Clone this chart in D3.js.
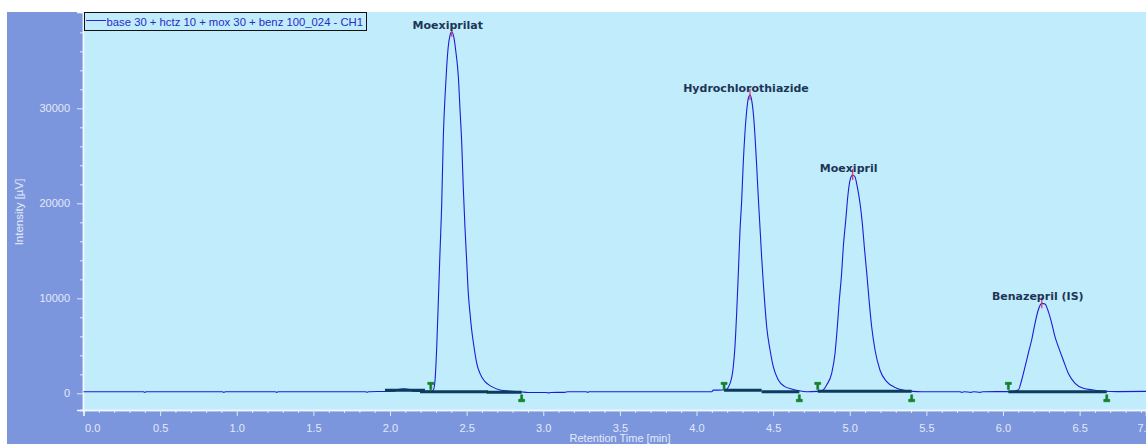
<!DOCTYPE html>
<html><head><meta charset="utf-8">
<script src="https://cdn.jsdelivr.net/npm/d3@7"></script>
<style>body{margin:0;background:#fff}svg{display:block}</style>
</head><body><svg id="c" width="1146" height="444"></svg>
<script>
// ---- data ----
const traceTime = [-0.01,0.39,0.40,0.41,0.905,0.916,0.927,1.25,1.261,1.272,1.84,1.85,1.86,1.96,2.03,2.06,2.09,2.12,2.15,2.20,2.27,
  2.283,2.294,2.305,2.315,2.326,2.337,2.348,2.359,2.370,2.380,2.392,2.403,2.418,2.431,2.446,2.457,2.468,2.478,2.489,2.500,2.511,2.522,2.533,2.548,2.566,2.587,2.620,2.664,2.718,2.78,2.86,2.90,3.02,3.034,3.048,3.14,3.16,3.28,3.29,3.30,4.10,4.11,4.17,
  4.186,4.219,4.240,4.251,4.262,4.273,4.284,4.295,4.305,4.316,4.328,4.338,4.349,4.360,4.371,4.382,4.393,4.403,4.414,4.425,4.436,4.447,4.458,4.480,4.501,4.534,4.577,4.620,4.67,4.72,4.79,
  4.827,4.849,4.882,4.904,4.919,4.932,4.947,4.958,4.974,4.987,5.002,5.019,5.034,5.049,5.067,5.082,5.095,5.111,5.126,5.143,5.165,5.197,5.241,5.306,5.36,5.41,5.47,5.72,5.73,5.75,5.79,5.81,5.85,5.87,6.04,
  6.100,6.122,6.144,6.165,6.187,6.209,6.230,6.253,6.274,6.296,6.318,6.339,6.361,6.393,6.426,6.470,6.524,6.589,6.66,6.75,6.95];
const traceIntensity = [170,170,90,170,170,100,170,170,100,170,170,110,170,190,210,420,470,430,230,200,210,
  347,1400,4905,9505,14770,19640,27010,31220,34380,36480,37710,38060,37370,35790,33330,29820,26350,21750,17540,14030,10530,8420,6660,4900,3160,2100,1220,700,347,230,140,90,90,40,90,100,170,170,90,170,170,330,340,
  347,1050,2800,4910,8420,12630,17190,20350,24210,27370,29820,31050,31400,30870,29470,27010,23850,20690,17540,14380,11580,9120,7010,4560,2800,1400,700,450,260,170,200,
  350,874,2105,4210,7010,9820,12630,15430,18240,20690,22450,22980,22800,21750,20000,17890,15430,12630,9820,7010,4560,2450,1230,530,300,200,170,170,90,170,100,170,100,170,180,
  350,1400,2800,4210,5610,7370,8770,9470,9400,8600,7370,5960,4910,3510,2110,1050,530,350,220,180,200];

const peakNames = ["Moexiprilat","Hydrochlorothiazide","Moexipril","Benazepril (IS)"];
const peakTimes = [2.403,4.349,5.019,6.253];
const peakHeights = [38060,31400,22980,9470];
const peakStartTimes = [2.266,4.180,4.791,6.035];
const peakEndTimes = [2.859,4.671,5.404,6.677];

const segStartTimes = [1.967,2.196,2.631,4.180,4.425,4.791,6.035];
const segEndTimes   = [2.228,2.640,2.859,4.425,4.671,5.404,6.677];
const segLevels     = [316,168,105,316,168,210,168];

const xMajorTicks = [0,0.5,1,1.5,2,2.5,3,3.5,4,4.5,5,5.5,6,6.5,7];
const yMajorTicks = [0,10000,20000,30000];
const legendLabel = "base 30 + hctz 10 + mox 30 + benz 100_024 - CH1";
const xTitle = "Retention Time [min]";
const yTitle = "Intensity [µV]";

// ---- drawing ----
const svg = d3.select("#c");
const L = 83.5, R = 1146, T = 12, B = 410;
const x = d3.scaleLinear().domain([0, (R - L) / 153.25]).range([L, R]);
const y = d3.scaleLinear().domain([-1758, 40137]).range([B, T]);

const outerBlue = "#7b96dd", plotBg = "#c0ecfb", axisTxt = "#e3e9f8";

svg.append("rect").attr("x", 7).attr("y", 12).attr("width", 1146 - 7).attr("height", 444 - 12).attr("fill", outerBlue);
svg.append("rect").attr("x", L - 0.5).attr("y", T).attr("width", R - L + 1).attr("height", B - T).attr("fill", plotBg);

// axes
const xMinor = d3.range(0, 7.01, 0.1).filter(v => xMajorTicks.every(m => Math.abs(m - v) > 1e-6));
const xAxisG = svg.append("g").attr("transform", `translate(0,${B})`);
xAxisG.call(d3.axisBottom(x).tickValues(xMinor).tickSize(3).tickFormat(""));
xAxisG.append("g").call(d3.axisBottom(x).tickValues(xMajorTicks).tickSize(6).tickFormat(d3.format(".1f")).tickPadding(8));
xAxisG.selectAll("path").attr("stroke", "#f4f7ff").attr("stroke-width", 1.5);
xAxisG.selectAll("line").attr("stroke", axisTxt);
xAxisG.selectAll("text").attr("fill", axisTxt).style("font", "11px 'Liberation Sans', Arial, sans-serif");
xAxisG.selectAll("text").filter(d => d === 0).attr("text-anchor", "start").attr("dx", 1);
// last label is pinned against the right edge of the original plot frame
xAxisG.selectAll("text").filter(d => d === 7).attr("text-anchor", "end").attr("dx", -4);

const yMinor = d3.range(0, 40001, 2000).filter(v => v % 10000 !== 0);
const yAxisG = svg.append("g").attr("transform", `translate(${L - 0.5},0)`);
yAxisG.call(d3.axisLeft(y).tickValues(yMinor).tickSize(3).tickFormat(""));
yAxisG.append("g").call(d3.axisLeft(y).tickValues(yMajorTicks).tickSize(6).tickFormat(d3.format("d")).tickPadding(7));
yAxisG.selectAll("path").attr("stroke", "#f4f7ff").attr("stroke-width", 1.5);
yAxisG.selectAll("line").attr("stroke", axisTxt);
yAxisG.selectAll("text").attr("fill", axisTxt).style("font", "11px 'Liberation Sans', Arial, sans-serif");

svg.append("text").attr("x", 620).attr("y", 442).attr("text-anchor", "middle")
  .attr("fill", axisTxt).style("font", "11px 'Liberation Sans', Arial, sans-serif").text(xTitle);
svg.append("text").attr("transform", "translate(23,212) rotate(-90)").attr("text-anchor", "middle")
  .attr("fill", axisTxt).style("font", "11.5px 'Liberation Sans', Arial, sans-serif").text(yTitle);

// plot content clipped
svg.append("clipPath").attr("id", "pc").append("rect").attr("x", L).attr("y", T).attr("width", R - L).attr("height", B - T);
const g = svg.append("g").attr("clip-path", "url(#pc)");

// trace
const pts = traceTime.map((t, i) => [t, traceIntensity[i]]);
g.append("path").datum(pts)
  .attr("d", d3.line().x(d => x(d[0])).y(d => y(d[1])).curve(d3.curveMonotoneX))
  .attr("fill", "none").attr("stroke", "#1c1cd8").attr("stroke-width", 1.1);

// integration baselines
segStartTimes.forEach((t0, i) => {
  g.append("line").attr("x1", x(t0)).attr("x2", x(segEndTimes[i]))
    .attr("y1", y(segLevels[i])).attr("y2", y(segLevels[i]))
    .attr("stroke", "#0d3b5e").attr("stroke-width", 3);
});

// start / end markers
const y0 = y(0);
peakStartTimes.forEach(t => {
  const cx = x(t);
  g.append("path").attr("d", `M${cx-3},${y0-11}h6v2.2h-2v5h-2v-5h-2z`).attr("fill", "#0b8a22").attr("stroke", "#05661a").attr("stroke-width", 0.5);
});
peakEndTimes.forEach(t => {
  const cx = x(t);
  g.append("path").attr("d", `M${cx-1},${y0+1.5}h2v4.5h2v2.5h-6v-2.5h2z`).attr("fill", "#0b8a22").attr("stroke", "#05661a").attr("stroke-width", 0.5);
});

// apex markers
peakTimes.forEach((t, i) => {
  g.append("line").attr("x1", x(t)).attr("x2", x(t))
    .attr("y1", y(peakHeights[i]) - 6).attr("y2", y(peakHeights[i]) + 5)
    .attr("stroke", "#e8305a").attr("stroke-width", 1.2);
});

// peak labels
peakNames.forEach((n, i) => {
  svg.append("text").attr("x", x(peakTimes[i]) - 4).attr("y", y(peakHeights[i]) - 3)
    .attr("text-anchor", "middle").attr("fill", "#1d3557")
    .style("font", "bold 11px 'DejaVu Sans', Verdana, sans-serif").text(n);
});

// legend
svg.append("rect").attr("x", 84.5).attr("y", 12.5).attr("width", 282).attr("height", 18)
  .attr("fill", plotBg).attr("stroke", "#111").attr("stroke-width", 1);
svg.append("line").attr("x1", 86).attr("x2", 106).attr("y1", 20.5).attr("y2", 20.5).attr("stroke", "#2a2ad0").attr("stroke-width", 1);
svg.append("text").attr("x", 106.5).attr("y", 26).attr("fill", "#2a2ac8")
  .style("font", "11.3px 'Liberation Sans', Arial, sans-serif").text(legendLabel);
</script></body></html>
